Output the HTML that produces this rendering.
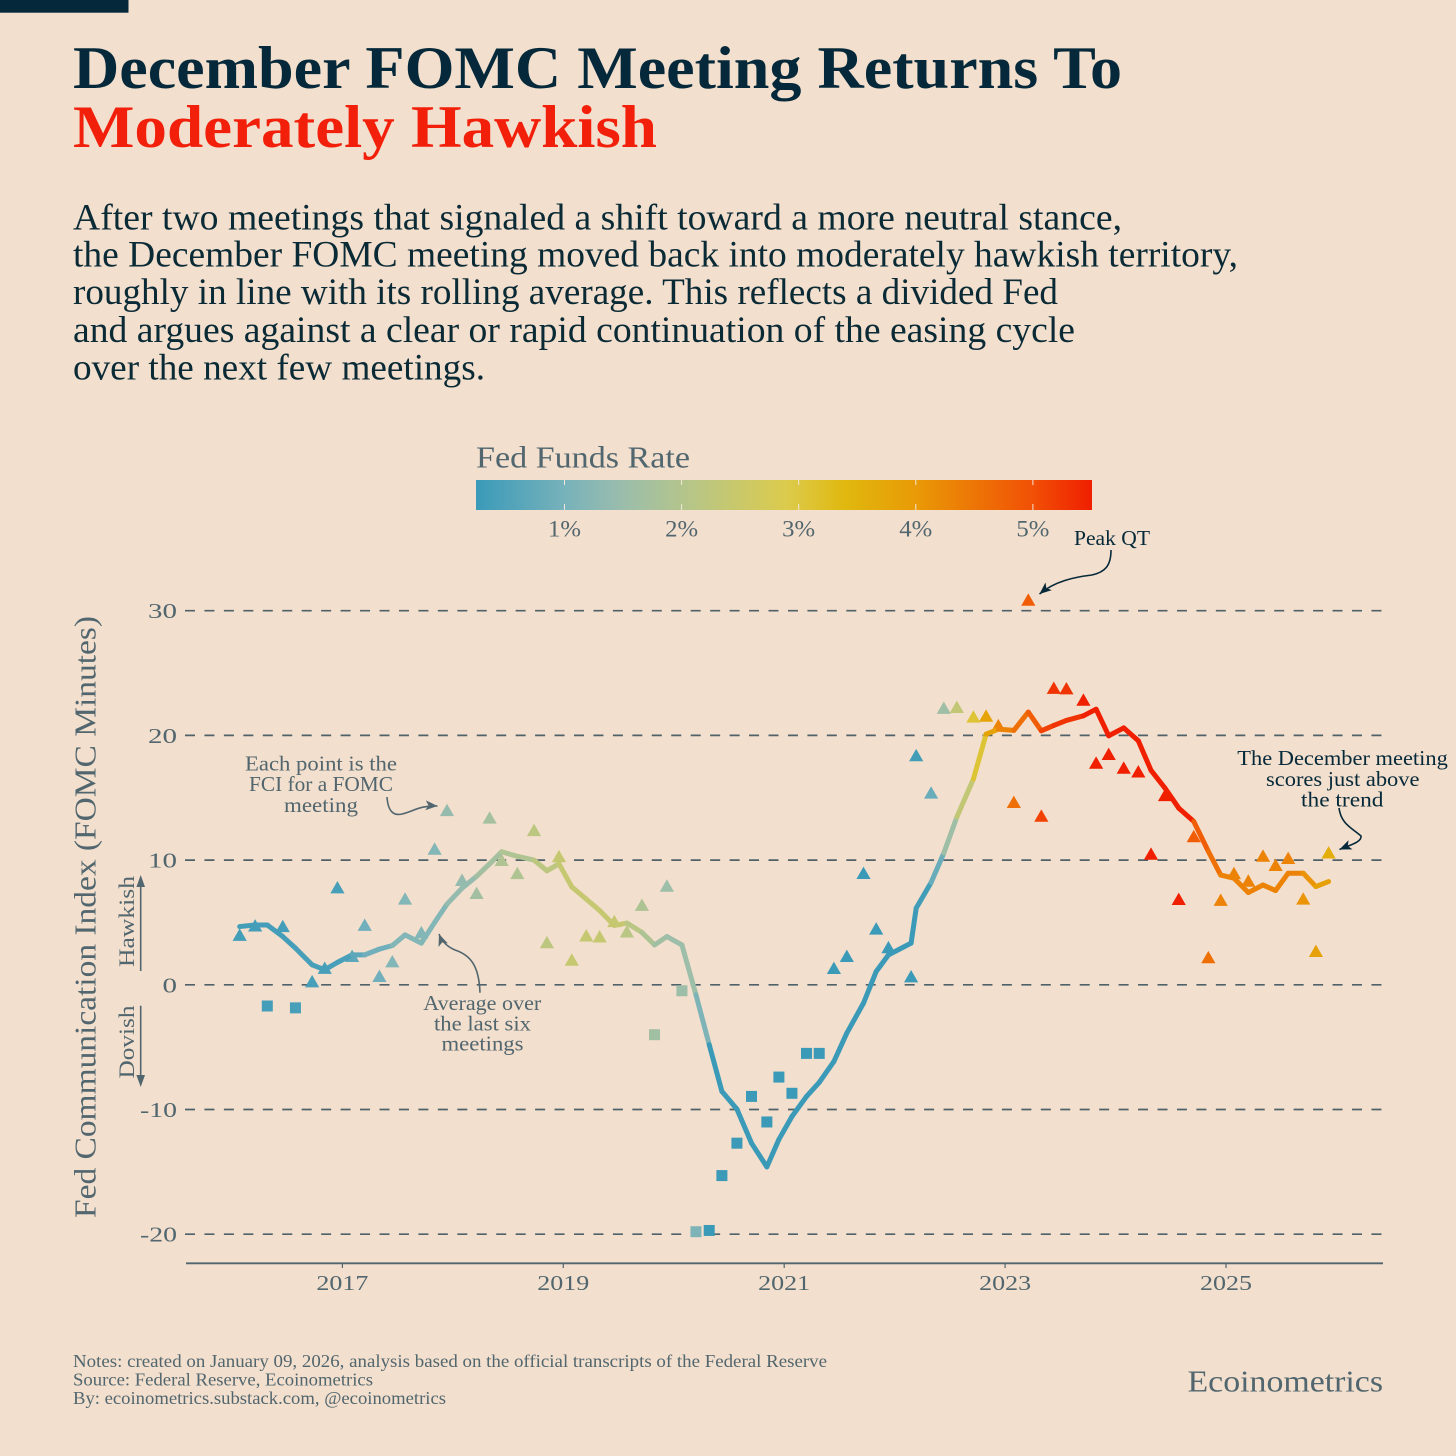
<!DOCTYPE html>
<html lang="en">
<head>
<meta charset="utf-8">
<title>December FOMC Meeting Returns To Moderately Hawkish</title>
<style>
html,body{margin:0;padding:0;background:#f3dfcd;width:1456px;height:1456px;overflow:hidden}
svg{display:block}
text{font-family:"Liberation Serif","DejaVu Serif",serif}
</style>
</head>
<body>
<svg id="chart" xmlns="http://www.w3.org/2000/svg" width="1456" height="1456" viewBox="0 0 1456 1456">
  <defs>
    <marker id="head-grey" markerWidth="13" markerHeight="10" refX="12" refY="5" orient="auto" markerUnits="userSpaceOnUse">
      <path d="M0 0 L12 5 L0 10 L3 5 Z" fill="#51666e"/>
    </marker>
    <marker id="head-dark" markerWidth="13" markerHeight="10" refX="12" refY="5" orient="auto" markerUnits="userSpaceOnUse">
      <path d="M0 0 L12 5 L0 10 L3 5 Z" fill="#06293a"/>
    </marker>
    <linearGradient id="rate-gradient" gradientUnits="userSpaceOnUse" x1="476" x2="1092" y1="0" y2="0"></linearGradient>
  </defs>
  <rect x="0" y="0" width="1456" height="1456" fill="#f3dfcd"/>
  <rect x="0" y="0" width="128.5" height="12.7" fill="#05293a"/>

  <g font-weight="bold" font-size="60">
    <text x="73" y="88" fill="#05293a" textLength="1049" lengthAdjust="spacingAndGlyphs">December FOMC Meeting Returns To</text>
    <text x="73" y="147" fill="#f2200a" textLength="584" lengthAdjust="spacingAndGlyphs">Moderately Hawkish</text>
  </g>

  <g font-size="36.5" fill="#0a2a36">
    <text x="73" y="229.3" textLength="1049" lengthAdjust="spacingAndGlyphs">After two meetings that signaled a shift toward a more neutral stance,</text>
    <text x="73" y="266.6" textLength="1165" lengthAdjust="spacingAndGlyphs">the December FOMC meeting moved back into moderately hawkish territory,</text>
    <text x="73" y="304" textLength="985" lengthAdjust="spacingAndGlyphs">roughly in line with its rolling average. This reflects a divided Fed</text>
    <text x="73" y="341.8" textLength="1002" lengthAdjust="spacingAndGlyphs">and argues against a clear or rapid continuation of the easing cycle</text>
    <text x="73" y="379.3" textLength="412" lengthAdjust="spacingAndGlyphs">over the next few meetings.</text>
  </g>

  <g id="legend">
    <text x="476" y="467.3" font-size="31" fill="#51666e" textLength="214" lengthAdjust="spacingAndGlyphs">Fed Funds Rate</text>
    <rect x="476" y="480" width="616" height="30" fill="url(#rate-gradient)"/>
  </g>

  <g id="grid"></g>
  <g id="yticks"></g>
  <g id="xaxis">
    <line x1="186" x2="1383" y1="1263.3" y2="1263.3" stroke="#51666e" stroke-width="1.8"/>
  </g>

  <g id="points"></g>
  <g id="trend"></g>

  <text transform="translate(95.5,1218) rotate(-90)" font-size="31" fill="#51666e" textLength="602" lengthAdjust="spacingAndGlyphs">Fed Communication Index (FOMC Minutes)</text>
  <text transform="translate(134,967) rotate(-90)" font-size="22.5" fill="#51666e" textLength="91" lengthAdjust="spacingAndGlyphs">Hawkish</text>
  <text transform="translate(134,1078.5) rotate(-90)" font-size="22.5" fill="#51666e" textLength="73" lengthAdjust="spacingAndGlyphs">Dovish</text>
  <path d="M140.7 971 L140.7 886" stroke="#51666e" stroke-width="1.6" fill="none"/>
  <path d="M140.7 875 L145 887 L136.4 887 Z" fill="#51666e"/>
  <path d="M140.7 1005.7 L140.7 1076" stroke="#51666e" stroke-width="1.6" fill="none"/>
  <path d="M140.7 1087 L145 1075 L136.4 1075 Z" fill="#51666e"/>

  <g font-size="21" fill="#51666e">
    <text x="245" y="770.7" textLength="152" lengthAdjust="spacingAndGlyphs">Each point is the</text>
    <text x="249" y="791.2" textLength="144" lengthAdjust="spacingAndGlyphs">FCI for a FOMC</text>
    <text x="284" y="812" textLength="74" lengthAdjust="spacingAndGlyphs">meeting</text>
    <path d="M387 797 C388 812 394 816 402 814 C412 812 420 805 437.5 806" stroke="#51666e" stroke-width="1.6" fill="none" marker-end="url(#head-grey)"/>
  </g>
  <g font-size="21" fill="#51666e">
    <text x="423.3" y="1010" textLength="118" lengthAdjust="spacingAndGlyphs">Average over</text>
    <text x="434" y="1030.5" textLength="97" lengthAdjust="spacingAndGlyphs">the last six</text>
    <text x="441.5" y="1050.7" textLength="82" lengthAdjust="spacingAndGlyphs">meetings</text>
    <path d="M480 992.7 C479 965 470 955 455 950 C448 947 442 942 439 934" stroke="#51666e" stroke-width="1.6" fill="none" marker-end="url(#head-grey)"/>
  </g>
  <g font-size="21" fill="#06293a">
    <text x="1074" y="545" textLength="76" lengthAdjust="spacingAndGlyphs">Peak QT</text>
    <path d="M1111 550 C1111 566 1105 572 1092 575 C1075 577 1055 581 1039.5 594" stroke="#06293a" stroke-width="1.6" fill="none" marker-end="url(#head-dark)"/>
  </g>
  <g font-size="21.5" fill="#06293a">
    <text x="1237.3" y="765" textLength="210.5" lengthAdjust="spacingAndGlyphs">The December meeting</text>
    <text x="1266" y="786" textLength="153.5" lengthAdjust="spacingAndGlyphs">scores just above</text>
    <text x="1301" y="806.7" textLength="82.5" lengthAdjust="spacingAndGlyphs">the trend</text>
    <path d="M1339 808 C1341 824 1352 828 1361 836 C1362 842 1350 845 1339.5 849.5" stroke="#06293a" stroke-width="1.6" fill="none" marker-end="url(#head-dark)"/>
  </g>

  <g font-size="17.5" fill="#51666e">
    <text x="73" y="1367" textLength="754" lengthAdjust="spacingAndGlyphs">Notes: created on January 09, 2026, analysis based on the official transcripts of the Federal Reserve</text>
    <text x="73" y="1385.7" textLength="300" lengthAdjust="spacingAndGlyphs">Source: Federal Reserve, Ecoinometrics</text>
    <text x="73" y="1404" textLength="373" lengthAdjust="spacingAndGlyphs">By: ecoinometrics.substack.com, @ecoinometrics</text>
  </g>
  <text x="1187.5" y="1391.5" font-size="31" fill="#51666e" textLength="195.5" lengthAdjust="spacingAndGlyphs">Ecoinometrics</text>
</svg>

<script>
// Meeting dates (decimal years)
const meetingDates = [
  2016.07,2016.21,2016.32,2016.46,2016.575,2016.726,2016.84,2016.955,
  2017.088,2017.202,2017.335,2017.452,2017.567,2017.715,2017.835,2017.947,
  2018.083,2018.215,2018.333,2018.442,2018.584,2018.735,2018.852,2018.961,
  2019.077,2019.208,2019.329,2019.462,2019.576,2019.712,2019.826,2019.938,
  2020.074,2020.201,2020.321,2020.436,2020.572,2020.704,2020.843,2020.952,
  2021.07,2021.202,2021.317,2021.45,2021.567,2021.718,2021.833,2021.944,
  2022.149,2022.195,2022.33,2022.445,2022.563,2022.713,2022.828,2022.939,
  2023.079,2023.21,2023.328,2023.441,2023.555,2023.709,2023.824,2023.938,
  2024.074,2024.206,2024.321,2024.448,2024.572,2024.708,2024.84,2024.952,
  2025.072,2025.202,2025.335,2025.449,2025.563,2025.699,2025.814,2025.929
];
// Fed Communication Index for each meeting
const meetingIndex = [
  4.0,4.75,-1.7,4.7,-1.85,0.27,1.35,7.8,
  2.3,4.8,0.7,1.87,6.9,4.2,10.9,14.0,
  8.4,7.35,13.4,10.0,8.95,12.4,3.4,10.3,
  2.0,3.95,3.87,5.1,4.27,6.4,-4.0,7.94,
  -0.48,-19.8,-19.7,-15.3,-12.7,-8.95,-11.0,-7.4,
  -8.7,-5.5,-5.5,1.34,2.3,8.96,4.5,3.0,
  0.67,18.4,15.4,22.2,22.27,21.5,21.57,20.8,
  14.65,30.87,13.55,23.8,23.76,22.85,17.8,18.5,
  17.4,17.1,10.5,15.2,6.87,11.9,2.2,6.8,
  8.95,8.34,10.34,9.6,10.16,6.9,2.7,10.6
];
// Average over the last six meetings
const averageIndex = [
  4.67,4.8,4.8,3.87,2.94,1.6,1.2,1.8,
  2.4,2.4,2.86,3.15,4.0,3.34,5.0,6.47,
  7.75,8.7,9.7,10.67,10.3,10.0,9.14,9.7,
  7.85,6.87,5.96,4.76,4.95,4.2,3.2,3.87,
  3.2,-0.8,-4.8,-8.55,-9.97,-12.7,-14.6,-12.4,
  -10.56,-8.95,-7.83,-6.15,-3.87,-1.47,1.07,2.4,
  3.34,6.15,8.2,10.56,13.45,16.5,20.1,20.5,
  20.4,21.87,20.37,20.8,21.2,21.57,22.1,19.97,
  20.6,19.57,17.2,15.77,14.17,13.1,10.7,8.8,
  8.55,7.4,8.0,7.56,8.95,8.95,7.88,8.28
];
// Fed funds rate at each meeting (%)
const fedFundsRate = [
  0.36,0.37,0.37,0.38,0.4,0.4,0.41,0.41,
  0.66,0.91,0.91,1.16,1.16,1.16,1.16,1.41,
  1.41,1.66,1.7,1.91,1.91,2.18,2.2,2.4,
  2.4,2.4,2.4,2.4,2.13,1.88,1.63,1.55,
  1.55,1.1,0.05,0.08,0.09,0.09,0.09,0.09,
  0.08,0.07,0.06,0.08,0.09,0.08,0.08,0.08,
  0.08,0.33,0.83,1.58,2.33,3.08,3.83,4.33,
  4.58,4.83,5.15,5.3,5.3,5.5,5.5,5.5,
  5.5,5.5,5.5,5.5,5.5,4.83,4.58,4.33,
  4.33,4.33,4.33,4.33,4.33,4.08,3.87,3.63
];
// Colour scale
const scaleRates = [0.244,1,1.45,2,2.9,3.4,4,5,5.5];
const scaleColors = ['#3a9ab8','#77b2bb','#98bcae','#b3c58d','#dccb4c','#e0b80e','#e99a06','#f15006','#f01f00'];
const legendTicks = [1,2,3,4,5];
const yTicks = [30,20,10,0,-10,-20];
const xTickYears = [2017,2019,2021,2023,2025];

const SVG_NS = 'http://www.w3.org/2000/svg';
const xScale = year => 342.4 + (year - 2017) * 110.45;
const yScale = value => 984.8 - value * 12.47;
const legendX = rate => 564.5 + (rate - 1) * 117.1;

function hexToRgb(hex) {
  return [1, 3, 5].map(i => parseInt(hex.slice(i, i + 2), 16));
}
function rateColor(rate) {
  const r = Math.min(Math.max(rate, scaleRates[0]), scaleRates[scaleRates.length - 1]);
  for (let i = 0; i < scaleRates.length - 1; i++) {
    if (r <= scaleRates[i + 1]) {
      const t = (r - scaleRates[i]) / (scaleRates[i + 1] - scaleRates[i]);
      const a = hexToRgb(scaleColors[i]);
      const b = hexToRgb(scaleColors[i + 1]);
      return 'rgb(' + a.map((c, k) => Math.round(c + (b[k] - c) * t)).join(',') + ')';
    }
  }
  return scaleColors[scaleColors.length - 1];
}
function make(tag, attrs, parent, text) {
  const el = document.createElementNS(SVG_NS, tag);
  Object.keys(attrs).forEach(k => el.setAttribute(k, attrs[k]));
  if (text !== undefined) el.textContent = text;
  parent.appendChild(el);
  return el;
}

// Legend gradient, ticks and labels
const gradient = document.getElementById('rate-gradient');
scaleRates.forEach((rate, i) => {
  make('stop', { offset: ((legendX(rate) - 476) / 616).toFixed(4), 'stop-color': scaleColors[i] }, gradient);
});
const legend = document.getElementById('legend');
legendTicks.forEach(rate => {
  const x = legendX(rate);
  const tickTop = make('line', { x1: x, x2: x, y1: 480, y2: 485, stroke: '#f3e6d8', 'stroke-width': 1 }, legend);
  
  
  const tickBottom = make('line', { x1: x, x2: x, y1: 504, y2: 510, stroke: '#f3e6d8', 'stroke-width': 1 }, legend);
  
  
  const label = make('text', { x: x, y: 536.5, 'text-anchor': 'middle', 'font-size': 23, fill: '#51666e', textLength: 33, lengthAdjust: 'spacingAndGlyphs' }, legend, rate + '%');
  
  
});

// Gridlines and y tick labels
const grid = document.getElementById('grid');
const yTickGroup = document.getElementById('yticks');
yTicks.forEach(v => {
  const y = yScale(v);
  const gridLine = make('line', { x1: 185, x2: 1383, y1: y, y2: y, stroke: '#4f6169', 'stroke-width': 1.7, 'stroke-dasharray': '10 9.45' }, grid);
  
  
  const str = String(v);
  const width = str.replace('-', '').length * 14.5 + (v < 0 ? 8 : 0);
  const label = make('text', { x: 177, y: y + 7.5, 'text-anchor': 'end', 'font-size': 21, fill: '#51666e', textLength: width, lengthAdjust: 'spacingAndGlyphs' }, yTickGroup, str);
  
  
});

// X ticks
const xAxisGroup = document.getElementById('xaxis');
xTickYears.forEach(year => {
  const x = xScale(year);
  const tick = make('line', { x1: x, x2: x, y1: 1263.3, y2: 1268, stroke: '#51666e', 'stroke-width': 1.2 }, xAxisGroup);
  
  
  const label = make('text', { x: x, y: 1290, 'text-anchor': 'middle', 'font-size': 21, fill: '#51666e', textLength: 52, lengthAdjust: 'spacingAndGlyphs' }, xAxisGroup, String(year));
  
  
});

// Meeting points: triangles when hawkish (positive), squares when dovish (negative)
const pointsGroup = document.getElementById('points');
meetingIndex.forEach((value, i) => {
  const cx = xScale(meetingDates[i]);
  const cy = yScale(value);
  const color = rateColor(fedFundsRate[i]);
  if (value >= 0) {
    const tri = make('path', { d: 'M' + cx + ' ' + (cy - 6.5) + 'L' + (cx + 7.1) + ' ' + (cy + 5.9) + 'L' + (cx - 7.1) + ' ' + (cy + 5.9) + 'Z', fill: color }, pointsGroup);
    
    
  } else {
    const sq = make('rect', { x: cx - 5.5, y: cy - 5.5, width: 11, height: 11, fill: color }, pointsGroup);
    
    
  }
});

// Trend line: each segment coloured by the rate at its starting meeting
const trendGroup = document.getElementById('trend');
for (let i = 0; i < averageIndex.length - 1; i++) {
  const seg = make('line', {
    x1: xScale(meetingDates[i]), y1: yScale(averageIndex[i]),
    x2: xScale(meetingDates[i + 1]), y2: yScale(averageIndex[i + 1]),
    stroke: rateColor(fedFundsRate[i]), 'stroke-width': 5, 'stroke-linecap': 'round'
  }, trendGroup);
  
  
}
</script>
</body>
</html>
